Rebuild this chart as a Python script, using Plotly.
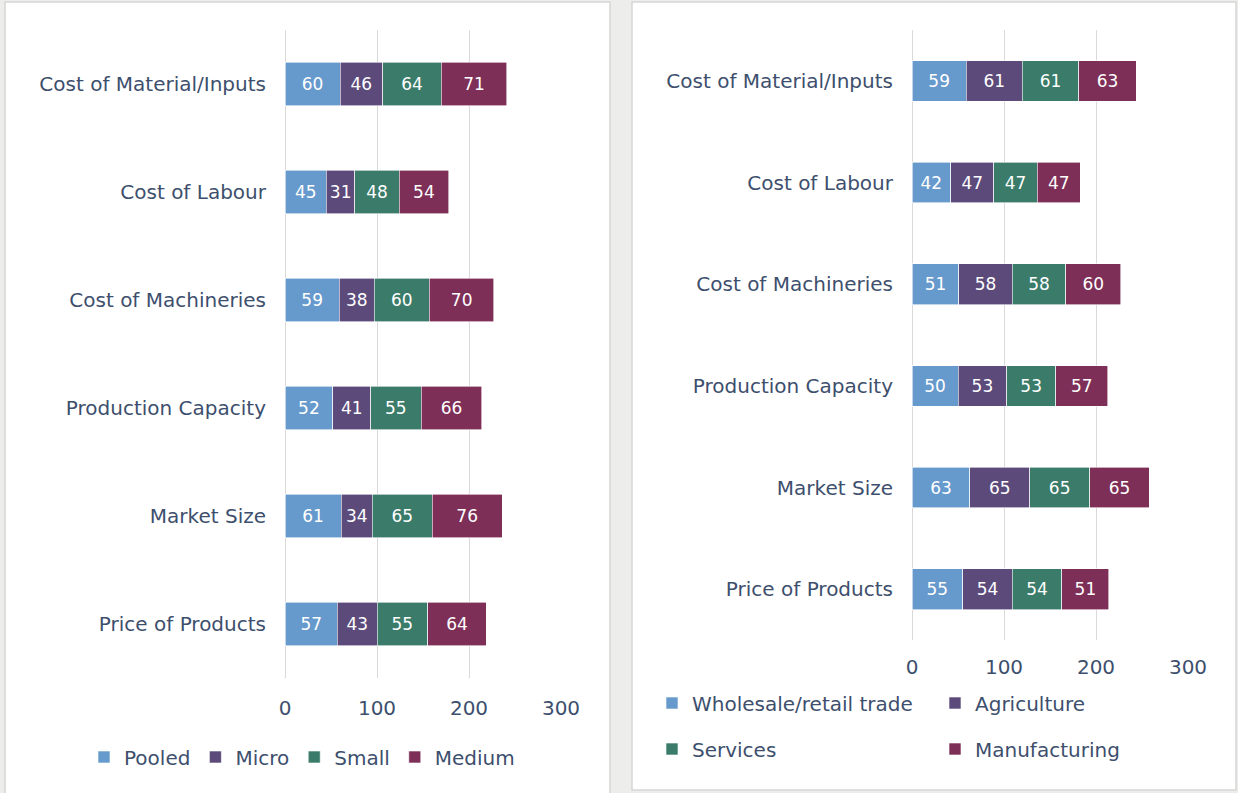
import plotly.graph_objects as go

categories = ["Cost of Material/Inputs", "Cost of Labour", "Cost of Machineries",
              "Production Capacity", "Market Size", "Price of Products"]

# Left panel: by firm size
pooled = [60, 45, 59, 52, 61, 57]
micro = [46, 31, 38, 41, 34, 43]
small = [64, 48, 60, 55, 65, 55]
medium = [71, 54, 70, 66, 76, 64]

# Right panel: by sector
wholesale = [59, 42, 51, 50, 63, 55]
agriculture = [61, 47, 58, 53, 65, 54]
services = [61, 47, 58, 53, 65, 54]
manufacturing = [63, 47, 60, 57, 65, 51]

x_ticks = [0, 100, 200, 300]

W, H = 1238, 793
FONT = "DejaVu Sans"
TXT = "#3D4F6D"
C_BLUE = "#6699CC"
C_PURPLE = "#5C4A7B"
C_GREEN = "#3A7B69"
C_MAROON = "#7E2F57"

def px(x):
    return x / W

def py(y):
    return 1 - y / H

fig = go.Figure()

left_series = [("Pooled", pooled, C_BLUE), ("Micro", micro, C_PURPLE),
               ("Small", small, C_GREEN), ("Medium", medium, C_MAROON)]
right_series = [("Wholesale/retail trade", wholesale, C_BLUE, "legend2"),
                ("Agriculture", agriculture, C_PURPLE, "legend2"),
                ("Services", services, C_GREEN, "legend3"),
                ("Manufacturing", manufacturing, C_MAROON, "legend3")]

for name, vals, col in left_series:
    fig.add_trace(go.Bar(
        y=categories, x=vals, name=name, orientation="h",
        marker=dict(color=col, line=dict(color="white", width=0.6)),
        text=vals, textposition="inside", insidetextanchor="middle",
        textfont=dict(color="white", size=17, family=FONT),
        xaxis="x", yaxis="y", legend="legend", width=0.4,
    ))

for name, vals, col, lg in right_series:
    fig.add_trace(go.Bar(
        y=categories, x=vals, name=name, orientation="h",
        marker=dict(color=col, line=dict(color="white", width=0.6)),
        text=vals, textposition="inside", insidetextanchor="middle",
        textfont=dict(color="white", size=17, family=FONT),
        xaxis="x2", yaxis="y2", legend=lg, width=0.4,
    ))

axis_common_x = dict(range=[0, 300], tickvals=x_ticks, showgrid=True,
                     gridcolor="#D9D9D9", gridwidth=1, zeroline=True,
                     zerolinecolor="#D9D9D9", zerolinewidth=1, showline=False,
                     ticks="", tickfont=dict(size=20, color=TXT, family=FONT),
                     fixedrange=True, automargin=False)
axis_common_y = dict(autorange="reversed", showgrid=False, showline=False,
                     ticks="", tickfont=dict(size=20, color=TXT, family=FONT),
                     ticklabelstandoff=18, fixedrange=True, automargin=False)

shapes = [
    dict(type="rect", xref="paper", yref="paper", x0=px(5), x1=px(610),
         y0=py(800), y1=py(2), fillcolor="white",
         line=dict(color="#D6D6D6", width=1.5), layer="below"),
    dict(type="rect", xref="paper", yref="paper", x0=px(632), x1=px(1236),
         y0=py(790), y1=py(2), fillcolor="white",
         line=dict(color="#D6D6D6", width=1.5), layer="below"),
]

legend_common = dict(orientation="h", bgcolor="rgba(0,0,0,0)",
                     font=dict(size=20, color=TXT, family=FONT),
                     xanchor="left", yanchor="middle", itemclick=False,
                     itemdoubleclick=False, traceorder="normal")

fig.update_layout(
    width=W, height=H, autosize=False,
    margin=dict(l=0, r=0, t=0, b=0, pad=0),
    paper_bgcolor="#EDEDEB", plot_bgcolor="rgba(0,0,0,0)",
    font=dict(family=FONT, color=TXT),
    barmode="stack", showlegend=True,
    xaxis=dict(domain=[px(285), px(561)], anchor="y", ticklabelstandoff=16,
               **axis_common_x),
    yaxis=dict(domain=[py(678), py(30)], anchor="x", **axis_common_y),
    xaxis2=dict(domain=[px(912), px(1188)], anchor="y2", ticklabelstandoff=13,
                **axis_common_x),
    yaxis2=dict(domain=[py(640), py(30)], anchor="x2", **axis_common_y),
    legend=dict(x=px(84), y=py(757), **legend_common),
    legend2=dict(x=px(652), y=py(703), entrywidth=238, entrywidthmode="pixels",
                 **legend_common),
    legend3=dict(x=px(652), y=py(749), entrywidth=238, entrywidthmode="pixels",
                 **legend_common),
    shapes=shapes,
)

fig.write_html(
    "out.html",
    config={"displayModeBar": False},
    post_script="document.body.style.margin='0';document.body.style.overflow='hidden';",
)
